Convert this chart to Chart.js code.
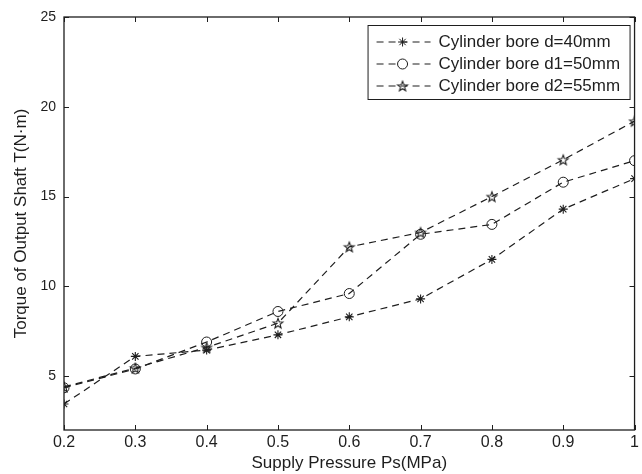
<!DOCTYPE html>
<html>
<head>
<meta charset="utf-8">
<script src="https://cdn.jsdelivr.net/npm/chart.js@4.4.1/dist/chart.umd.min.js"></script>
<style>
html,body{margin:0;padding:0;background:#fff;}
#c{display:block;}
</style>
</head>
<body>
<canvas id="c" width="642" height="474"></canvas>
<script>
// ---- data ----
const pressures = [0.2, 0.3, 0.4, 0.5, 0.6, 0.7, 0.8, 0.9, 1.0];
const torqueD40 = [3.45, 6.1, 6.45, 7.3, 8.3, 9.3, 11.5, 14.3, 16.0];
const torqueD50 = [4.35, 5.4, 6.9, 8.6, 9.6, 12.9, 13.45, 15.8, 17.0];
const torqueD55 = [4.4, 5.45, 6.6, 7.95, 12.2, 13.0, 15.0, 17.05, 19.2];
const seriesLabels = ['Cylinder bore d=40mm', 'Cylinder bore d1=50mm', 'Cylinder bore d2=55mm'];
const xTickValues = [0.2, 0.3, 0.4, 0.5, 0.6, 0.7, 0.8, 0.9, 1.0];
const yTickValues = [5, 10, 15, 20, 25];
const xTitle = 'Supply Pressure Ps(MPa)';
const yTitle = 'Torque of Output Shaft T(N\u00B7m)';

const FONT = "'Liberation Sans', Arial, sans-serif";
const INK = '#1e1e1e';

// pentagram marker
function makePentagram() {
  const s = 14, cv = document.createElement('canvas');
  cv.width = s; cv.height = s;
  const g = cv.getContext('2d');
  const cx = s / 2, cy = s / 2 + 0.5, R = 5.2, r = 2.2;
  g.beginPath();
  for (let i = 0; i < 10; i++) {
    const a = -Math.PI / 2 + i * Math.PI / 5;
    const rr = i % 2 === 0 ? R : r;
    const px = cx + rr * Math.cos(a), py = cy + rr * Math.sin(a);
    i === 0 ? g.moveTo(px, py) : g.lineTo(px, py);
  }
  g.closePath();
  g.strokeStyle = INK; g.lineWidth = 1.1; g.stroke();
  return cv;
}
const pentagram = makePentagram();

function toXY(ys) { return pressures.map((x, i) => ({x: x, y: ys[i]})); }

const dash = [7, 5];
const datasets = [
  {label: seriesLabels[0], data: toXY(torqueD40), pointStyle: 'star', pointRadius: 4.5, pointBorderWidth: 1.1},
  {label: seriesLabels[1], data: toXY(torqueD50), pointStyle: 'circle', pointRadius: 5, pointBorderWidth: 1},
  {label: seriesLabels[2], data: toXY(torqueD55), pointStyle: pentagram, pointRadius: 5, pointBorderWidth: 1}
].map(d => Object.assign({
  borderColor: INK, backgroundColor: 'rgba(0,0,0,0)', pointBorderColor: INK,
  pointBackgroundColor: 'rgba(0,0,0,0)', borderWidth: 1.2, borderDash: dash,
  tension: 0, fill: false, showLine: true
}, d));

const framePlugin = {
  id: 'frame',
  afterDatasetsDraw(chart) {
    const {ctx, chartArea: a, scales} = chart;
    ctx.save();
    ctx.strokeStyle = INK; ctx.lineWidth = 1.3; ctx.setLineDash([]);
    ctx.strokeRect(a.left, a.top, a.right - a.left, a.bottom - a.top);
    ctx.lineWidth = 1;
    const tl = 5;
    ctx.beginPath();
    scales.x.ticks.forEach(t => {
      const px = Math.round(scales.x.getPixelForValue(t.value)) + 0.5;
      ctx.moveTo(px, a.bottom); ctx.lineTo(px, a.bottom - tl);
      ctx.moveTo(px, a.top); ctx.lineTo(px, a.top + tl);
    });
    scales.y.ticks.forEach(t => {
      const py = Math.round(scales.y.getPixelForValue(t.value)) + 0.5;
      ctx.moveTo(a.left, py); ctx.lineTo(a.left + tl, py);
      ctx.moveTo(a.right, py); ctx.lineTo(a.right - tl, py);
    });
    ctx.stroke();
    ctx.restore();
  }
};

const legendPlugin = {
  id: 'boxLegend',
  afterDraw(chart) {
    const {ctx, chartArea: a} = chart;
    const bw = 262, bh = 74;
    const bx = a.right - bw - 5, by = a.top + 8;
    ctx.save();
    ctx.fillStyle = '#fff';
    ctx.fillRect(bx, by, bw, bh);
    ctx.strokeStyle = INK; ctx.lineWidth = 1; ctx.setLineDash([]);
    ctx.strokeRect(bx + 0.5, by + 0.5, bw, bh);
    const rows = [17, 39, 61];
    chart.data.datasets.forEach((ds, i) => {
      const y = by + rows[i];
      ctx.save();
      ctx.strokeStyle = INK; ctx.lineWidth = 1.2; ctx.setLineDash(dash);
      ctx.beginPath(); ctx.moveTo(bx + 9, y); ctx.lineTo(bx + 63, y); ctx.stroke();
      ctx.restore();
      ctx.save();
      ctx.setLineDash([]);
      ctx.strokeStyle = INK;
      ctx.fillStyle = '#fff';
      Chart.helpers.drawPoint(ctx, {
        pointStyle: ds.pointStyle, radius: ds.pointRadius, rotation: 0,
        borderWidth: ds.pointBorderWidth
      }, bx + 35, y);
      ctx.restore();
      ctx.save();
      ctx.fillStyle = INK;
      ctx.font = '16px ' + FONT;
      ctx.textBaseline = 'middle';
      ctx.translate(bx + 71, y + 1);
      ctx.scale(1.06, 1);
      ctx.fillText(ds.label, 0, 0);
      ctx.restore();
    });
    ctx.restore();
  }
};

new Chart(document.getElementById('c'), {
  type: 'line',
  data: {datasets: datasets},
  options: {
    responsive: false,
    animation: false,
    devicePixelRatio: 1,
    layout: {padding: {top: 17, right: 7, left: 0, bottom: 0}},
    plugins: {legend: {display: false}, tooltip: {enabled: false}},
    scales: {
      x: {
        type: 'linear', min: 0.2, max: 1.0,
        afterBuildTicks: s => { s.ticks = xTickValues.map(v => ({value: v})); },
        afterFit: s => { s.height = 44; },
        grid: {display: false, drawTicks: false},
        border: {display: false},
        ticks: {
          color: INK, padding: 3, maxRotation: 0, autoSkip: false,
          font: {family: FONT, size: 16},
          callback: v => String(Math.round(v * 10) / 10)
        },
        title: {display: true, text: xTitle, color: INK, font: {family: FONT, size: 17}, padding: {top: 0, bottom: 0}}
      },
      y: {
        type: 'linear', min: 2, max: 25,
        afterBuildTicks: s => { s.ticks = yTickValues.map(v => ({value: v})); },
        afterFit: s => { s.width = 64; },
        grid: {display: false, drawTicks: false},
        border: {display: false},
        ticks: {color: INK, padding: 8, autoSkip: false, font: {family: FONT, size: 14}},
        title: {display: true, text: yTitle, color: INK, font: {family: FONT, size: 17}, padding: {top: 11, bottom: 0}}
      }
    }
  },
  plugins: [framePlugin, legendPlugin]
});
</script>
</body>
</html>
